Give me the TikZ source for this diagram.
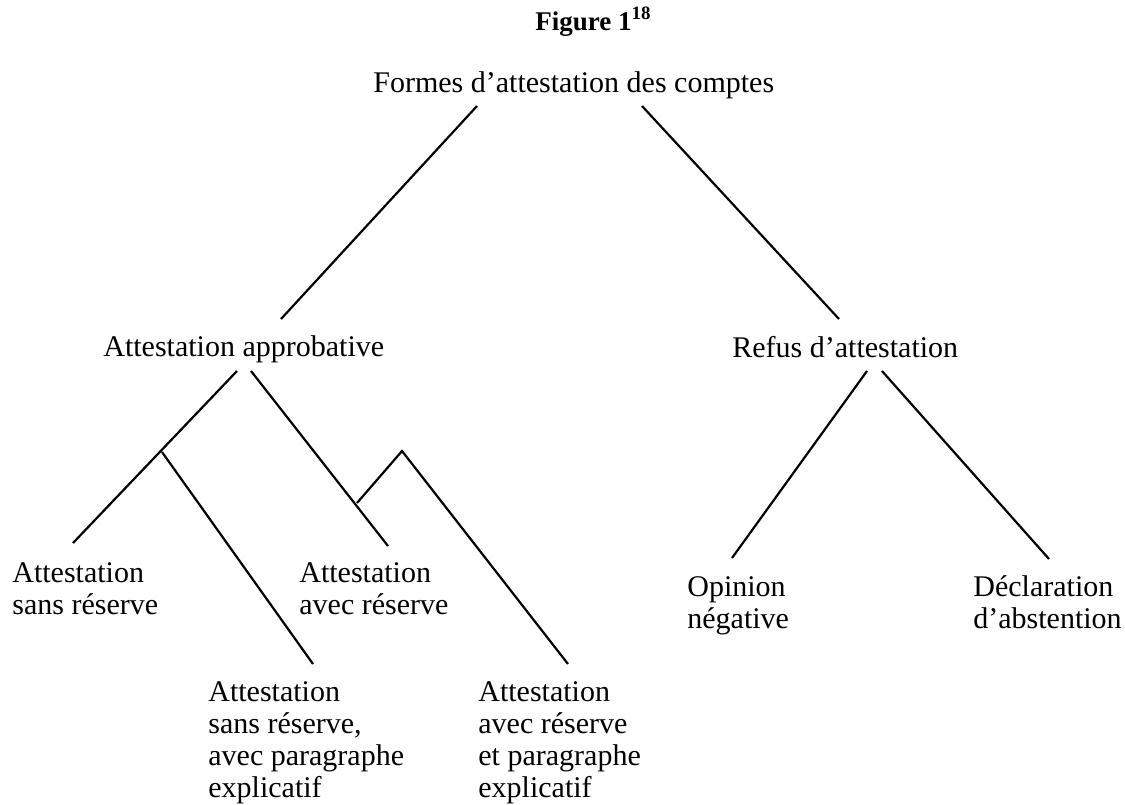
\documentclass[tikz,border=0pt]{standalone}
\usepackage{fontspec}
\setmainfont{Liberation Serif}

\begin{document}
\begin{tikzpicture}[x=0.5pt,y=-0.5pt]
\tikzstyle{lbl} = [anchor=base west,inner sep=0pt,align=left,font=\fontsize{15}{16}\selectfont]
\tikzstyle{branch} = [black,line width=1.1pt]

\useasboundingbox (0,0) rectangle (1125,804);

\node[anchor=base west,inner sep=0pt,font=\fontsize{13.5}{16}\selectfont\bfseries] (title) at (535,30) {Figure 1\textsuperscript{18}};

% multi-line labels sit on the baseline of their last line
\node[lbl] (formes) at (373,92) {Formes d'attestation des comptes};
\node[lbl] (approb) at (103,356) {Attestation approbative};
\node[lbl] (refus) at (732,357) {Refus d'attestation};
\node[lbl] (sansres) at (12,614) {Attestation\\sans réserve};
\node[lbl] (avecres) at (299,614) {Attestation\\avec réserve};
\node[lbl] (sansexpl) at (208,797) {Attestation\\sans réserve,\\avec paragraphe\\explicatif};
\node[lbl] (avecexpl) at (478,797) {Attestation\\avec réserve\\et paragraphe\\explicatif};
\node[lbl] (opinion) at (687,628) {Opinion\\négative};
\node[lbl] (abst) at (973,628) {Déclaration\\d'abstention};

\coordinate (formes-l) at (477,106);
\coordinate (formes-r) at (642,106);
\coordinate (approb-top) at (281,319);
\coordinate (refus-top) at (839,319);
\coordinate (approb-l) at (237,371);
\coordinate (approb-r) at (251,371);
\coordinate (sansres-top) at (73,543);
\coordinate (avecres-top) at (388,546);
\coordinate (fork-sans) at (162,452);
\coordinate (fork-avec) at (357,503);
\coordinate (peak-avec) at (402,451);
\coordinate (sansexpl-top) at (313,664);
\coordinate (avecexpl-top) at (568,664);
\coordinate (refus-l) at (867,371);
\coordinate (refus-r) at (882,371);
\coordinate (opinion-top) at (732,558);
\coordinate (abst-top) at (1049,559);

\draw[branch] (formes-l) -- (approb-top);
\draw[branch] (formes-r) -- (refus-top);
\draw[branch] (approb-l) -- (sansres-top);
\draw[branch] (fork-sans) -- (sansexpl-top);
\draw[branch] (approb-r) -- (avecres-top);
\draw[branch] (fork-avec) -- (peak-avec) -- (avecexpl-top);
\draw[branch] (refus-l) -- (opinion-top);
\draw[branch] (refus-r) -- (abst-top);
\end{tikzpicture}
\end{document}
